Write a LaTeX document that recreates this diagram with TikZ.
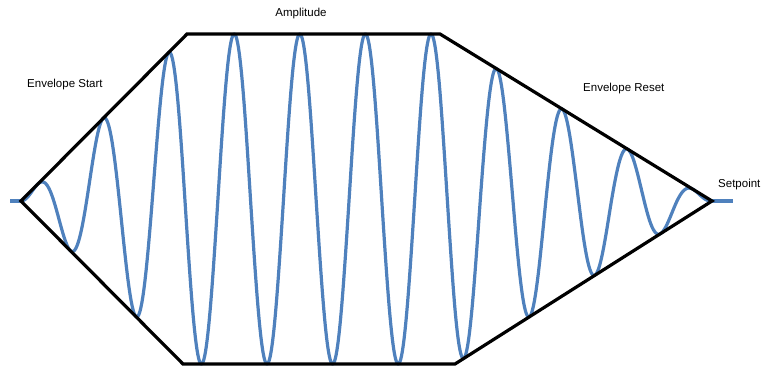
\documentclass[tikz,border=0pt]{standalone}
\usepackage{fontspec}
\setmainfont{Liberation Sans}
\usetikzlibrary{positioning,calc}
\definecolor{waveblue}{RGB}{79,129,189}

\begin{document}
\begin{tikzpicture}[
    x=1pt, y=-1pt,
    envline/.style={draw=black, line width=3.2pt, line join=miter},
    wave/.style={draw=waveblue, line width=3.2pt, line join=round},
    lbl/.style={font=\fontsize{11.5}{13}\selectfont, inner sep=0pt},
    declare function={
        envup(\x)=max(0,min(167,min((\x-21)*1.006,(712-\x)*0.614)));
        envdn(\x)=max(0,min(163,min((\x-21)*1.006,(712-\x)*0.634)));
        sw(\x)=sin((\x-21)*5.4878);
        wav(\x)=sw(\x)*((sw(\x)>0)*envup(\x)+(sw(\x)<=0)*envdn(\x));
    }
]
\useasboundingbox (0,0) rectangle (762,366);
% envelope corners
\coordinate (start) at (21,201);
\coordinate (topL) at (187,34);
\coordinate (topR) at (440,34);
\coordinate (setp) at (712,201);
\coordinate (botR) at (455,364);
\coordinate (botL) at (183,364);
\coordinate (in) at (10,201);
\coordinate (out) at (733,201);
% labels
\node[lbl] (amp) at (301,14) {Amplitude};
\node[lbl, anchor=west] (estart) at (27,85) {Envelope Start};
\node[lbl, anchor=west] (ereset) at (583,89) {Envelope Reset};
\node[lbl, anchor=west] (setpt) at (718,185) {Setpoint};
% signal
\draw[wave] (in) -- (start);
\draw[wave] plot[domain=21:712, samples=900] (\x,{201-wav(\x)});
\draw[wave] (setp) -- (out);
% envelope
\draw[envline] (start) -- (topL) -- (topR) -- (setp) -- (botR) -- (botL) -- cycle;
\end{tikzpicture}
\end{document}
